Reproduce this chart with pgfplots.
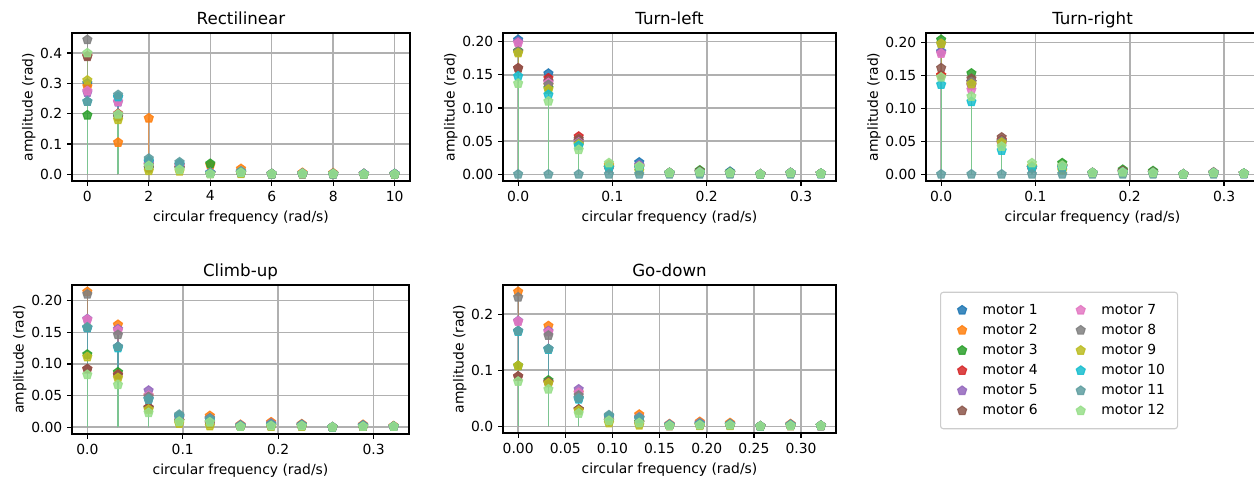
\documentclass[border=0pt]{standalone}
\usepackage{fontspec}
\setmainfont{DejaVu Sans}
\usepackage{pgfplots}
\usepackage{pgfplotstable}
\pgfplotsset{compat=1.18}

\definecolor{c1}{HTML}{1F77B4}
\definecolor{c2}{HTML}{FF7F0E}
\definecolor{c3}{HTML}{2CA02C}
\definecolor{c4}{HTML}{D62728}
\definecolor{c5}{HTML}{9467BD}
\definecolor{c6}{HTML}{8C564B}
\definecolor{c7}{HTML}{E377C2}
\definecolor{c8}{HTML}{7F7F7F}
\definecolor{c9}{HTML}{BCBD22}
\definecolor{c10}{HTML}{17BECF}
\definecolor{c11}{HTML}{5F9EA0}
\definecolor{c12}{HTML}{98DF8A}
\definecolor{gridgray}{HTML}{B0B0B0}
\definecolor{legframe}{HTML}{CCCCCC}

% amplitude spectra, one table per manoeuvre
\pgfplotstableread{
x  m1    m2    m3    m4    m5    m6    m7    m8    m9    m10   m11   m12
0  0.300 0.290 0.195 0.390 0.270 0.388 0.275 0.444 0.310 0.240 0.240 0.400
1  0.255 0.105 0.190 0.200 0.238 0.190 0.240 0.195 0.180 0.255 0.262 0.198
2  0.040 0.185 0.020 0.030 0.035 0.022 0.032 0.030 0.012 0.045 0.052 0.028
3  0.030 0.030 0.020 0.022 0.030 0.020 0.025 0.020 0.010 0.035 0.040 0.015
4  0.005 0.030 0.035 0.004 0.005 0.003 0.004 0.003 0.002 0.004 0.003 0.001
5  0.008 0.018 0.004 0.005 0.006 0.004 0.005 0.004 0.002 0.006 0.010 0.005
6  0.001 0.001 0.001 0.001 0.001 0.001 0.001 0.001 0.001 0.001 0.001 0.001
7  0.002 0.005 0.002 0.002 0.002 0.001 0.002 0.001 0.001 0.002 0.002 0.002
8  0.001 0.004 0.001 0.001 0.001 0.001 0.001 0.001 0.001 0.001 0.001 0.001
9  0.001 0.001 0.000 0.001 0.001 0.000 0.001 0.000 0.000 0.001 0.001 0.000
10 0.001 0.001 0.000 0.001 0.001 0.000 0.001 0.000 0.000 0.001 0.001 0.000
}\rectilinear

\pgfplotstableread{
x      m1    m2    m3    m4    m5    m6    m7    m8    m9    m10   m11 m12
0.0000 0.203 0.185 0.186 0.160 0.200 0.160 0.198 0.185 0.183 0.148 0 0.137
0.0321 0.152 0.135 0.130 0.145 0.140 0.140 0.138 0.135 0.128 0.120 0 0.110
0.0642 0.050 0.050 0.045 0.057 0.050 0.053 0.048 0.047 0.045 0.043 0 0.037
0.0963 0.010 0.014 0.010 0.010 0.010 0.010 0.010 0.010 0.012 0.010 0 0.017
0.1284 0.018 0.010 0.012 0.012 0.014 0.012 0.012 0.010 0.005 0.010 0 0.012
0.1605 0.002 0.002 0.002 0.002 0.002 0.002 0.002 0.002 0.002 0.002 0 0.002
0.1926 0.004 0.003 0.006 0.004 0.003 0.004 0.003 0.003 0.002 0.003 0 0.003
0.2247 0.004 0.002 0.003 0.002 0.002 0.002 0.002 0.002 0.002 0.002 0 0.002
0.2568 0.000 0.000 0.000 0.000 0.000 0.000 0.000 0.000 0.000 0.000 0 0.000
0.2889 0.002 0.002 0.002 0.002 0.002 0.002 0.002 0.002 0.001 0.002 0 0.002
0.3210 0.001 0.001 0.001 0.001 0.001 0.001 0.001 0.001 0.001 0.001 0 0.001
}\turnleft

\pgfplotstableread{
x      m1    m2    m3    m4    m5    m6    m7    m8    m9    m10   m11 m12
0.0000 0.186 0.150 0.204 0.150 0.185 0.161 0.183 0.198 0.198 0.136 0 0.147
0.0321 0.140 0.135 0.153 0.140 0.135 0.145 0.128 0.140 0.137 0.110 0 0.118
0.0642 0.048 0.048 0.050 0.052 0.048 0.056 0.046 0.050 0.048 0.036 0 0.042
0.0963 0.010 0.010 0.010 0.010 0.010 0.010 0.010 0.010 0.012 0.010 0 0.017
0.1284 0.012 0.010 0.017 0.012 0.012 0.012 0.012 0.012 0.006 0.010 0 0.013
0.1605 0.002 0.002 0.002 0.002 0.002 0.002 0.002 0.002 0.002 0.002 0 0.002
0.1926 0.004 0.003 0.007 0.004 0.003 0.005 0.003 0.003 0.002 0.003 0 0.003
0.2247 0.003 0.002 0.005 0.002 0.002 0.003 0.002 0.002 0.002 0.002 0 0.002
0.2568 0.000 0.000 0.000 0.000 0.000 0.000 0.000 0.000 0.000 0.000 0 0.000
0.2889 0.002 0.002 0.002 0.002 0.002 0.003 0.002 0.002 0.001 0.002 0 0.002
0.3210 0.001 0.001 0.001 0.001 0.001 0.001 0.001 0.001 0.001 0.001 0 0.001
}\turnright

\pgfplotstableread{
x      m1    m2    m3    m4    m5    m6    m7    m8    m9    m10   m11   m12
0.0000 0.157 0.214 0.115 0.092 0.171 0.092 0.170 0.210 0.111 0.157 0.158 0.083
0.0321 0.127 0.162 0.087 0.083 0.155 0.082 0.153 0.146 0.078 0.125 0.127 0.067
0.0642 0.045 0.050 0.030 0.031 0.058 0.031 0.050 0.048 0.028 0.044 0.044 0.023
0.0963 0.015 0.018 0.010 0.010 0.018 0.010 0.016 0.016 0.006 0.018 0.020 0.009
0.1284 0.012 0.018 0.008 0.006 0.014 0.006 0.013 0.014 0.002 0.012 0.013 0.008
0.1605 0.002 0.004 0.001 0.001 0.003 0.001 0.003 0.003 0.001 0.002 0.002 0.001
0.1926 0.004 0.008 0.002 0.002 0.006 0.002 0.005 0.005 0.001 0.004 0.004 0.002
0.2247 0.003 0.005 0.002 0.002 0.004 0.002 0.003 0.004 0.001 0.003 0.003 0.002
0.2568 0.000 0.000 0.000 0.000 0.000 0.000 0.000 0.000 0.000 0.000 0.000 0.000
0.2889 0.002 0.004 0.001 0.001 0.003 0.001 0.002 0.003 0.001 0.002 0.002 0.001
0.3210 0.001 0.002 0.001 0.001 0.001 0.001 0.001 0.001 0.001 0.001 0.001 0.001
}\climbup

\pgfplotstableread{
x      m1    m2    m3    m4    m5    m6    m7    m8    m9    m10   m11   m12
0.0000 0.170 0.240 0.108 0.089 0.188 0.089 0.187 0.230 0.108 0.169 0.170 0.080
0.0321 0.138 0.179 0.082 0.078 0.170 0.079 0.168 0.162 0.077 0.137 0.138 0.066
0.0642 0.050 0.060 0.030 0.030 0.066 0.030 0.060 0.055 0.028 0.048 0.050 0.023
0.0963 0.016 0.018 0.010 0.010 0.018 0.010 0.016 0.016 0.006 0.018 0.020 0.010
0.1284 0.014 0.021 0.008 0.006 0.016 0.006 0.015 0.015 0.002 0.014 0.015 0.006
0.1605 0.002 0.004 0.001 0.001 0.003 0.001 0.003 0.003 0.001 0.002 0.002 0.001
0.1926 0.004 0.008 0.002 0.002 0.006 0.002 0.005 0.005 0.001 0.004 0.004 0.002
0.2247 0.003 0.006 0.002 0.002 0.004 0.002 0.003 0.004 0.001 0.003 0.003 0.002
0.2568 0.000 0.000 0.000 0.000 0.000 0.000 0.000 0.000 0.000 0.000 0.000 0.000
0.2889 0.002 0.004 0.001 0.001 0.003 0.001 0.002 0.003 0.001 0.002 0.002 0.001
0.3210 0.001 0.001 0.001 0.001 0.001 0.001 0.001 0.001 0.001 0.001 0.001 0.001
}\godown

\pgfplotsset{
  panel/.style={
    scale only axis, anchor=north west,
    width=239.76pt, height=106.56pt,
    axis line style={line width=1pt},
    grid=major, major grid style={draw=gridgray, line width=1.1pt},
    tick align=outside, tick pos=left, major tick length=3.5pt,
    every tick/.style={black, line width=0.9pt},
    xlabel={circular frequency (rad/s)}, ylabel={amplitude (rad)},
    ylabel shift=-3.5pt,
    title style={font=\large, anchor=base, inner sep=0pt},
    tick label style={font=\normalsize},
    label style={font=\normalsize},
    /pgf/number format/assume math mode=true,
    /pgf/number format/fixed, /pgf/number format/fixed zerofill,
  },
  stem/.style={ycomb, forget plot, line width=0.9pt, draw opacity=0.55,
    mark=pentagon*, mark size=3.4pt,
    mark options={solid, line width=0.8pt, draw opacity=0.85, fill opacity=0.85}},
  legmark/.style={only marks, mark=pentagon*, mark size=3.4pt,
    mark options={line width=0.8pt, draw opacity=0.85, fill opacity=0.85}},
}

\newcommand{\stemall}[1]{%
  \pgfplotsinvokeforeach{1,...,12}{%
    \addplot[stem, color=c##1] table[x=x, y=m##1] {#1};
  }%
}

\begin{document}
\begin{tikzpicture}
\useasboundingbox (0,0) rectangle (902.88pt,-344.88pt);

\begin{axis}[panel, at={(51.84pt,-23.76pt)}, width=243.36pt,
  title={Rectilinear},
  xmin=-0.5, xmax=10.5, xtick={0,2,4,6,8,10},
  xticklabel style={/pgf/number format/precision=0},
  ymin=-0.0222, ymax=0.4662, ytick={0,0.1,0.2,0.3,0.4},
  yticklabel style={/pgf/number format/precision=1}]
  \stemall{\rectilinear}
\end{axis}

\begin{axis}[panel, at={(362.16pt,-23.76pt)},
  title={Turn-left},
  xmin=-0.01605, xmax=0.33705, xtick={0,0.1,0.2,0.3},
  xticklabel style={/pgf/number format/precision=1},
  ymin=-0.01015, ymax=0.21315, ytick={0,0.05,0.1,0.15,0.2},
  yticklabel style={/pgf/number format/precision=2}]
  \stemall{\turnleft}
\end{axis}

\begin{axis}[panel, at={(666.72pt,-23.76pt)},
  title={Turn-right},
  xmin=-0.01605, xmax=0.33705, xtick={0,0.1,0.2,0.3},
  xticklabel style={/pgf/number format/precision=1},
  ymin=-0.0102, ymax=0.2142, ytick={0,0.05,0.1,0.15,0.2},
  yticklabel style={/pgf/number format/precision=2}]
  \stemall{\turnright}
\end{axis}

\begin{axis}[panel, at={(51.84pt,-205.2pt)}, width=242.64pt, height=107.28pt,
  title={Climb-up},
  xmin=-0.01605, xmax=0.33705, xtick={0,0.1,0.2,0.3},
  xticklabel style={/pgf/number format/precision=1},
  ymin=-0.0107, ymax=0.2247, ytick={0,0.05,0.1,0.15,0.2},
  yticklabel style={/pgf/number format/precision=2}]
  \stemall{\climbup}
\end{axis}

\begin{axis}[panel, at={(362.16pt,-205.2pt)},
  title={Go-down},
  xmin=-0.01605, xmax=0.33705, xtick={0,0.05,0.1,0.15,0.2,0.25,0.3},
  xticklabel style={/pgf/number format/precision=2},
  ymin=-0.012, ymax=0.252, ytick={0,0.1,0.2},
  yticklabel style={/pgf/number format/precision=1},
  legend columns=2, legend cell align=left,
  legend image code/.code={%
    \path[draw=none, fill=none] (0cm,-3pt) rectangle (0.75cm,3pt);
    \draw[#1] plot coordinates {(0.3cm,0cm)};},
  legend style={at={(1.3123,0.9547)}, anchor=north west,
    draw=legframe, line width=0.8pt, rounded corners=2pt,
    font=\normalsize, row sep=1.6pt, inner xsep=7pt, inner ysep=6.5pt,
    /tikz/every even column/.append style={column sep=20.5pt}}]
  \stemall{\godown}
  \pgfplotsinvokeforeach{1,7,2,8,3,9,4,10,5,11,6,12}{%
    \addlegendimage{legmark, color=c#1}
    \addlegendentry{motor #1}
  }
\end{axis}
\end{tikzpicture}
\end{document}
